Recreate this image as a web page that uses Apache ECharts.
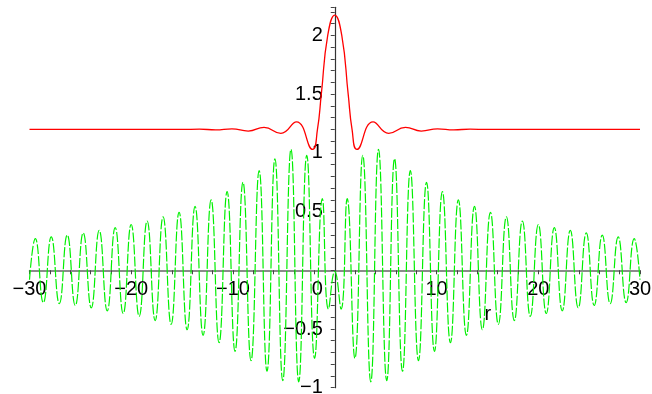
<!DOCTYPE html>
<html>
<head>
<meta charset="utf-8">
<script src="https://cdn.jsdelivr.net/npm/echarts@6/dist/echarts.min.js"></script>
<style>
  html, body { margin: 0; padding: 0; background: #fff; }
  #chart { width: 652px; height: 394px; }
</style>
</head>
<body>
<div id="chart"></div>
<script>
// Red curve: sampled r positions and values
const redR = [-30, -15, -13.3, -11.7, -10.1, -8.5, -6.95, -5.3, -3.76, -2.18, -1.7, -1.32, -0.69, 0,
              0.69, 1.32, 1.7, 2.18, 3.76, 5.3, 6.95, 8.5, 10.1, 11.7, 13.3, 15, 30];
const redV = [1.2, 1.2, 1.202, 1.196, 1.205, 1.186, 1.217, 1.167, 1.264, 1.03, 1.2, 1.5, 2.0, 2.174,
              2.0, 1.5, 1.2, 1.03, 1.264, 1.167, 1.217, 1.186, 1.205, 1.196, 1.202, 1.2, 1.2];

// Green curve: crests and troughs of the oscillation
const greenR = [-30, -29.43, -28.64, -27.86, -27.07, -26.29, -25.50, -24.72, -23.93, -23.15, -22.36,
                -21.58, -20.79, -20.01, -19.22, -18.44, -17.65, -16.87, -16.08, -15.30, -14.51,
                -13.73, -12.94, -12.15, -11.37, -10.58, -9.80, -9.02, -8.23, -7.43, -6.66, -5.88,
                -5.11, -4.30, -3.54, -2.75, -1.98, -1.22, -0.62, 0,
                0.62, 1.22, 1.98, 2.75, 3.54, 4.30, 5.11, 5.88, 6.66, 7.43, 8.23, 9.02, 9.80,
                10.58, 11.37, 12.15, 12.94, 13.73, 14.51, 15.30, 16.08, 16.87, 17.65, 18.44, 19.22,
                20.01, 20.79, 21.58, 22.36, 23.15, 23.93, 24.72, 25.50, 26.29, 27.07, 27.86, 28.64,
                29.43, 30];
const greenV = [-0.08, 0.27, -0.275, 0.284, -0.284, 0.30, -0.30, 0.318, -0.32, 0.34, -0.345,
                0.364, -0.368, 0.39, -0.392, 0.42, -0.428, 0.455, -0.46, 0.494, -0.506,
                0.545, -0.554, 0.60, -0.617, 0.67, -0.69, 0.75, -0.77, 0.85, -0.86, 0.95,
                -0.94, 1.03, -0.95, 0.98, -0.75, 0.61, -0.33, -0.01,
                -0.33, 0.61, -0.75, 0.98, -0.95, 1.03, -0.94, 0.95, -0.86, 0.85, -0.77, 0.75, -0.69,
                0.67, -0.617, 0.60, -0.554, 0.545, -0.506, 0.494, -0.46, 0.455, -0.428, 0.42, -0.392,
                0.39, -0.368, 0.364, -0.345, 0.34, -0.32, 0.318, -0.30, 0.30, -0.284, 0.284, -0.275,
                0.27, -0.08];

// Axis ranges and tick steps
const xMin = -30, xMax = 30, xStep = 10;
const yMin = -1, yMax = 2.24, yStep = 0.5;

// Plot area in pixels
const W = 652, H = 394;
const G = { left: 29.5, right: 12, top: 7.3, bottom: 6.3 };
const gridW = W - G.left - G.right;
const gridH = H - G.top - G.bottom;
// Shift each axis onto the other's zero so line, ticks and labels cross at the origin
const xAxisOffset = -((0 - yMin) / (yMax - yMin)) * gridH;
const yAxisOffset = -((0 - xMin) / (xMax - xMin)) * gridW;

const zip = (a, b) => a.map((v, i) => [v, b[i]]);
const minus = s => String(s).replace('-', '\u2212');

const FONT = '"Liberation Sans", Arial, Helvetica, sans-serif';
const FS = 20;

const chart = echarts.init(document.getElementById('chart'), null, { renderer: 'canvas' });
chart.setOption({
  animation: false,
  backgroundColor: '#ffffff',
  grid: Object.assign({ containLabel: false, outerBoundsMode: 'none' }, G),
  xAxis: {
    type: 'value',
    position: 'bottom',
    offset: xAxisOffset,
    min: xMin, max: xMax, interval: xStep,
    splitLine: { show: false },
    axisLine: { onZero: false, lineStyle: { color: '#666', width: 1.5 } },
    axisTick: { show: true, length: 4, lineStyle: { color: '#444', width: 1 } },
    minorTick: { show: true, splitNumber: 5, length: 4, lineStyle: { color: '#444', width: 1 } },
    axisLabel: {
      margin: 9,
      fontFamily: FONT, fontSize: FS, color: '#000',
      formatter: v => v === 0 ? '{z|0}' : minus(v),
      rich: { z: { fontFamily: FONT, fontSize: FS, color: '#000', padding: [0, 35, 0, 0] } }
    },
    name: 'r',
    nameLocation: 'middle',
    nameGap: 22,
    nameTextStyle: { fontFamily: FONT, fontSize: FS, color: '#000', padding: [0, 0, 0, 306] }
  },
  yAxis: {
    type: 'value',
    position: 'left',
    offset: yAxisOffset,
    min: yMin, max: yMax, interval: yStep,
    splitLine: { show: false },
    axisLine: { onZero: false, lineStyle: { color: '#333', width: 1.2 } },
    axisTick: { show: true, length: 4, lineStyle: { color: '#444', width: 1 } },
    minorTick: { show: true, splitNumber: 5, length: 4, lineStyle: { color: '#444', width: 1 } },
    axisLabel: {
      margin: 12,
      showMaxLabel: false,
      fontFamily: FONT, fontSize: FS, color: '#000',
      padding: [5, 0, 0, 0],
      formatter: v => (v === 0 || Math.abs(v * 2 - Math.round(v * 2)) > 1e-6) ? '' : minus(v)
    }
  },
  series: [
    {
      type: 'line',
      data: zip(greenR, greenV),
      smooth: 0.5,
      showSymbol: false,
      lineStyle: { color: '#00f000', width: 1.2, type: [10, 2] },
      z: 2
    },
    {
      type: 'line',
      data: zip(redR, redV),
      smooth: 0.5,
      showSymbol: false,
      lineStyle: { color: '#ff0000', width: 1.3 },
      z: 3
    }
  ]
});
</script>
</body>
</html>
